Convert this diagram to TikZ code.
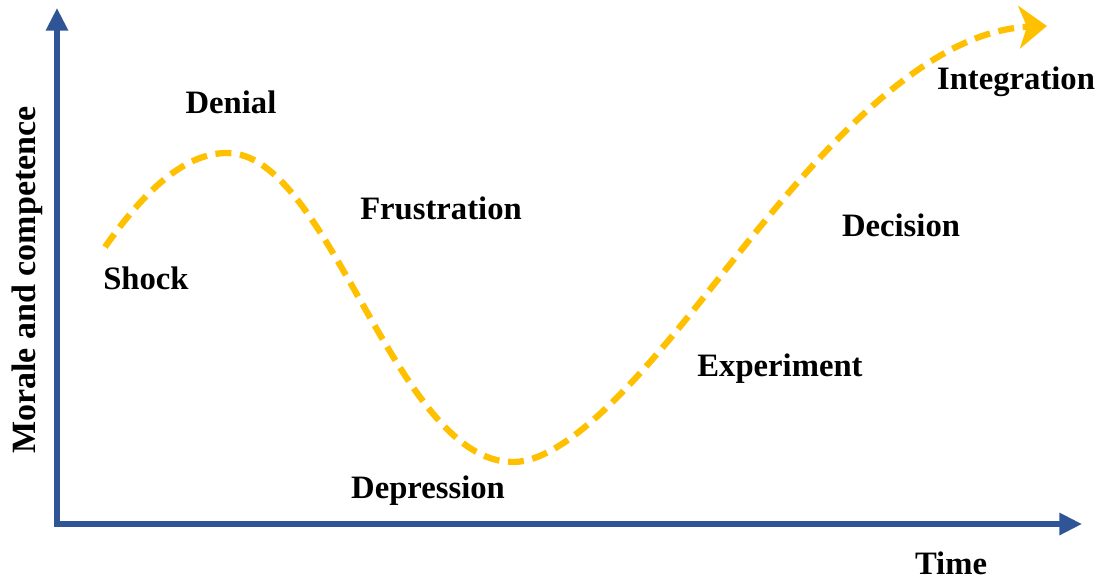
\documentclass[tikz,border=0pt]{standalone}
\usepackage{fontspec}
\setmainfont{Liberation Serif}
\usetikzlibrary{arrows.meta}
\definecolor{axisblue}{RGB}{47,85,151}
\definecolor{curveyellow}{RGB}{255,192,0}
\begin{document}
\begin{tikzpicture}[x=0.75pt,y=-0.75pt,
  axisline/.style={draw=axisblue,line width=3.9pt,line join=miter,{Triangle[length=17pt,width=16pt]}-{Triangle[length=17pt,width=16pt]}},
  curveline/.style={draw=curveyellow,line width=4.7pt,dash pattern=on 12pt off 6.5pt,-{Stealth[length=21pt,width=32pt,inset=6pt]}},
  lbl/.style={font=\fontsize{24.5}{29}\selectfont\bfseries,inner sep=0pt,anchor=base,text=black}]
\useasboundingbox (0,0) rectangle (1105,579);
% axes
\coordinate (ytip) at (57,8);
\coordinate (xtip) at (1082,524);
\draw[axisline] (ytip) |- (xtip);
% curve
\coordinate (start) at (105,247);
\coordinate (peak) at (227,153);
\coordinate (trough) at (513,462);
\coordinate (mid) at (700,302);
\coordinate (end) at (1047,26);
\draw[curveline] (start) .. controls (145,190) and (185,153) .. (peak)
  .. controls (330,153) and (395,462) .. (trough)
  .. controls (570,462) and (650,364) .. (mid)
  .. controls (780,202) and (905,32) .. (end);
% labels
\node[lbl] (denial) at (231,113) {Denial};
\node[lbl] (frustration) at (441,219) {Frustration};
\node[lbl] (shock) at (146,289) {Shock};
\node[lbl] (decision) at (901,236) {Decision};
\node[lbl] (experiment) at (780,376) {Experiment};
\node[lbl] (depression) at (428,498) {Depression};
\node[lbl] (integration) at (1016,89) {Integration};
\node[lbl] (time) at (951,574) {Time};
\node[lbl,rotate=90,font=\fontsize{25.5}{30}\selectfont\bfseries] (morale) at (35,280) {Morale and competence};
\end{tikzpicture}
\end{document}
